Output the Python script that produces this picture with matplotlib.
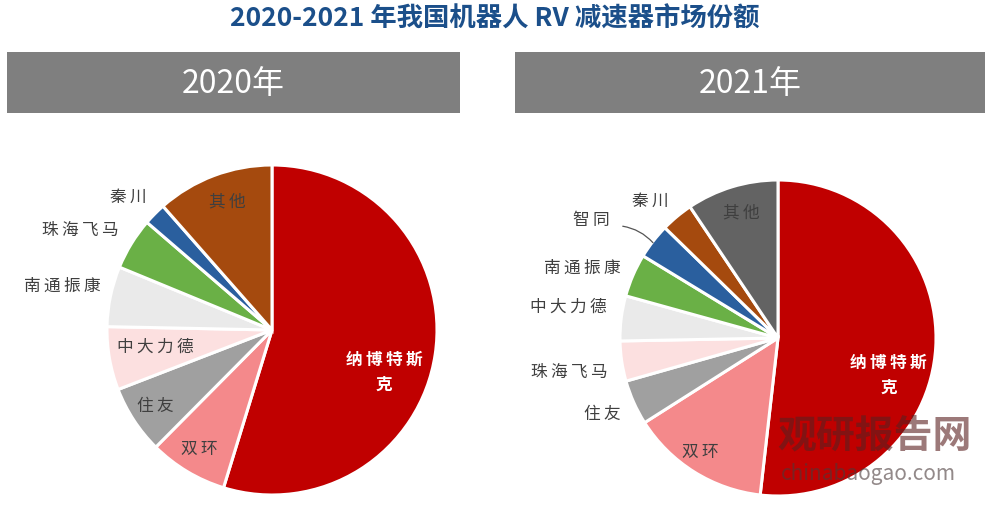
import matplotlib.pyplot as plt

plt.rcParams['font.family'] = ['Noto Sans CJK SC', 'DejaVu Sans']

# data (share, %)
names_2020 = ['纳博特斯\n克', '双环', '住友', '中大力德', '南通振康', '珠海飞马', '秦川', '其他']
share_2020 = [54.8, 7.7, 6.7, 6.2, 5.9, 5.1, 2.2, 11.5]

names_2021 = ['纳博特斯\n克', '双环', '住友', '珠海飞马', '中大力德', '南通振康', '智同', '秦川', '其他']
share_2021 = [51.8, 14.2, 4.6, 4.1, 4.6, 4.4, 3.6, 3.3, 9.4]

colors = ['#C00000', '#F4898B', '#A0A0A0', '#FCE0E0', '#EAEAEA',
          '#6AB046', '#2A5F9E', '#A54A0E', '#636363']

# label positions in pie units (radius = 1)
pos_2020 = [(0.68, -0.25), (-0.44, -0.72), (-0.71, -0.46), (-0.71, -0.10),
            (-1.27, 0.27), (-1.16, 0.61), (-0.87, 0.81), (-0.27, 0.78)]
pos_2021 = [(0.70, -0.23), (-0.49, -0.72), (-1.11, -0.48), (-1.32, -0.21),
            (-1.33, 0.20), (-1.24, 0.45), (-1.18, 0.75), (-0.81, 0.87), (-0.23, 0.80)]

W, H = 990, 510
fig = plt.figure(figsize=(W / 100, H / 100), dpi=100)
fig.patch.set_facecolor('white')


def px_axes(x0, y0, w, h):
    # axes from pixel box (top-left origin)
    return fig.add_axes([x0 / W, (H - y0 - h) / H, w / W, h / H])


def spaced(s):
    # the labels in the source are loosely spaced
    return '\n'.join('\u2009'.join(line) for line in s.split('\n'))


fig.text(0.5, 1 - 19 / H, '2020-2021 年我国机器人 RV 减速器市场份额',
         ha='center', va='center', fontsize=19, fontweight='bold', color='#1B4F8A')

for x0, x1, year in [(7, 460, '2020年'), (515, 985, '2021年')]:
    hx = px_axes(x0, 53, x1 - x0, 61)
    hx.set_facecolor('#7F7F7F')
    hx.set_xticks([])
    hx.set_yticks([])
    for s in hx.spines.values():
        s.set_visible(False)
    hx.text(0.5, 0.5, year, ha='center', va='center', fontsize=23,
            color='white', transform=hx.transAxes)


def draw_pie(cx, cy, r, names, share, pos):
    ax = px_axes(cx - r, cy - r, 2 * r, 2 * r)
    ax.pie(share, colors=colors[:len(share)], startangle=90, counterclock=False,
           radius=1, wedgeprops=dict(edgecolor='white', linewidth=2.2))
    ax.set_xlim(-1, 1)
    ax.set_ylim(-1, 1)
    ax.set_aspect('equal')
    ax.axis('off')
    for i, (name, (lx, ly)) in enumerate(zip(names, pos)):
        c = 'white' if i == 0 else '#3F3F3F'
        fw = 'bold' if i == 0 else 'normal'
        ax.text(lx, ly, spaced(name), ha='center', va='center', fontsize=12,
                color=c, fontweight=fw, linespacing=1.5, clip_on=False)
    return ax


draw_pie(272, 331, 165, names_2020, share_2020, pos_2020)
ax2 = draw_pie(778, 339, 158, names_2021, share_2021, pos_2021)
ax2.annotate('', xy=(-0.78, 0.59), xytext=(-1.0, 0.71),
             arrowprops=dict(arrowstyle='-', color='#555555', lw=0.9,
                             connectionstyle='arc3,rad=-0.2'))

# watermark
fig.text(875 / W, 1 - 436 / H, '观研报告网', ha='center', va='center',
         fontsize=28, fontweight='bold', color='#5A2020', alpha=0.6)
fig.text(868 / W, 1 - 474 / H, 'chinabaogao.com', ha='center', va='center',
         fontsize=15, color='#4A3A3A', alpha=0.6)

fig.savefig('out.png', dpi=100, facecolor='white')
